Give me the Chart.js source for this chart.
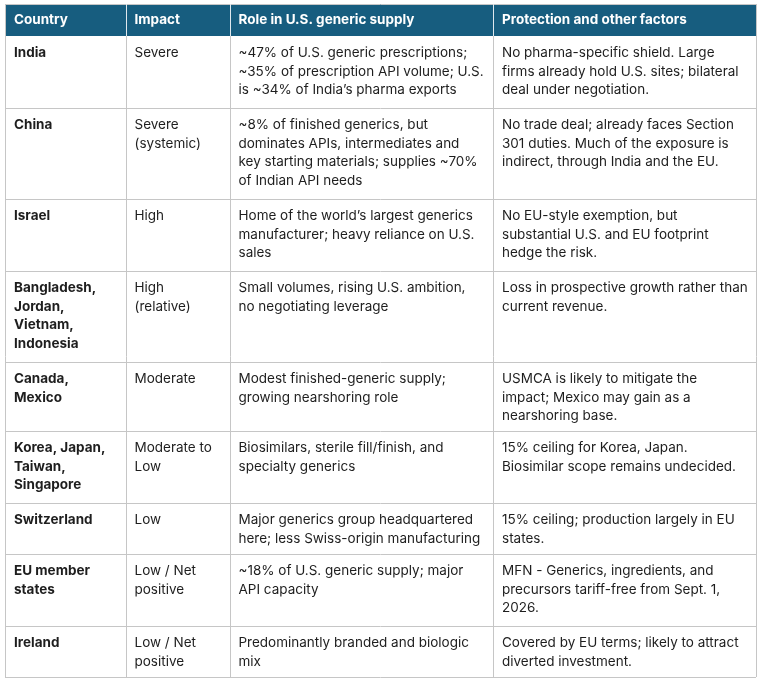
<!DOCTYPE html>
<html>
<head>
<meta charset="utf-8">
<script src="https://cdn.jsdelivr.net/npm/chart.js@4"></script>
<style>
  html, body { margin: 0; padding: 0; background: #fff; }
  #tableChart { display: block; }
</style>
</head>
<body>
<canvas id="tableChart" width="760" height="682"></canvas>
<script>
/**
 * Tariff exposure table — drawn on a Chart.js canvas through its linear scales
 */

const HEADERS = ['Country', 'Impact', 'Role in U.S. generic supply', 'Protection and other factors'];

const COUNTRIES = [
  ['India'],
  ['China'],
  ['Israel'],
  ['Bangladesh,', 'Jordan,', 'Vietnam,', 'Indonesia'],
  ['Canada,', 'Mexico'],
  ['Korea, Japan,', 'Taiwan,', 'Singapore'],
  ['Switzerland'],
  ['EU member', 'states'],
  ['Ireland'],
];

const IMPACTS = [
  ['Severe'],
  ['Severe', '(systemic)'],
  ['High'],
  ['High', '(relative)'],
  ['Moderate'],
  ['Moderate to', 'Low'],
  ['Low'],
  ['Low / Net', 'positive'],
  ['Low / Net', 'positive'],
];

const ROLES = [
  ['~47% of U.S. generic prescriptions;', '~35% of prescription API volume; U.S.', 'is ~34% of India\u2019s pharma exports'],
  ['~8% of finished generics, but', 'dominates APIs, intermediates and', 'key starting materials; supplies ~70%', 'of Indian API needs'],
  ['Home of the world\u2019s largest generics', 'manufacturer; heavy reliance on U.S.', 'sales'],
  ['Small volumes, rising U.S. ambition,', 'no negotiating leverage'],
  ['Modest finished-generic supply;', 'growing nearshoring role'],
  ['Biosimilars, sterile fill/finish, and', 'specialty generics'],
  ['Major generics group headquartered', 'here; less Swiss-origin manufacturing'],
  ['~18% of U.S. generic supply; major', 'API capacity'],
  ['Predominantly branded and biologic', 'mix'],
];

const PROTECTIONS = [
  ['No pharma-specific shield. Large', 'firms already hold U.S. sites; bilateral', 'deal under negotiation.'],
  ['No trade deal; already faces Section', '301 duties. Much of the exposure is', 'indirect, through India and the EU.'],
  ['No EU-style exemption, but', 'substantial U.S. and EU footprint', 'hedge the risk.'],
  ['Loss in prospective growth rather than', 'current revenue.'],
  ['USMCA is likely to mitigate the', 'impact; Mexico may gain as a', 'nearshoring base.'],
  ['15% ceiling for Korea, Japan.', 'Biosimilar scope remains undecided.'],
  ['15% ceiling; production largely in EU', 'states.'],
  ['MFN - Generics, ingredients, and', 'precursors tariff-free from Sept. 1,', '2026.'],
  ['Covered by EU terms; likely to attract', 'diverted investment.'],
];

/* ---- Layout (scale units = pixels) ---- */
const COL_EDGES = [5, 125.5, 229.5, 493, 756];
const ROW_EDGES = [4, 36, 108, 199, 271, 362, 431, 503, 554, 626, 677];
const PAD_X = 9;
const FIRST_LINE = 17;
const LINE_H = 18.6;
const FONT = 'Inter, "Noto Sans", sans-serif';
const FONT_SIZE = 13.5;

const STYLE = {
  headerBg: '#175d7f',
  headerText: '#ffffff',
  headerRule: '#dfe8ee',
  grid: '#c6c6c6',
  text: '#1e1e1e',
};

const tablePlugin = {
  id: 'tablePlugin',
  afterDraw(chart) {
    const { ctx } = chart;
    const x = chart.scales.x;
    const y = chart.scales.y;
    const px = (v) => x.getPixelForValue(v);
    const py = (v) => y.getPixelForValue(v);
    const left = px(COL_EDGES[0]);
    const right = px(COL_EDGES[COL_EDGES.length - 1]);

    ctx.save();

    // header band
    ctx.fillStyle = STYLE.headerBg;
    ctx.fillRect(left, py(ROW_EDGES[0]), right - left, py(ROW_EDGES[1]) - py(ROW_EDGES[0]));

    // horizontal rules
    ctx.strokeStyle = STYLE.grid;
    ctx.lineWidth = 1;
    ROW_EDGES.forEach((r, i) => {
      if (i === 1) return;
      const yy = Math.round(py(r)) + 0.5;
      ctx.beginPath();
      ctx.moveTo(left, yy);
      ctx.lineTo(right, yy);
      ctx.stroke();
    });

    // vertical rules: light inside the header, gray below
    COL_EDGES.forEach((c, i) => {
      const xx = Math.round(px(c)) + 0.5;
      const inner = i > 0 && i < COL_EDGES.length - 1;
      ctx.strokeStyle = inner ? STYLE.headerRule : STYLE.grid;
      ctx.beginPath();
      ctx.moveTo(xx, py(ROW_EDGES[0]));
      ctx.lineTo(xx, py(ROW_EDGES[1]));
      ctx.stroke();
      ctx.strokeStyle = STYLE.grid;
      ctx.beginPath();
      ctx.moveTo(xx, py(ROW_EDGES[1]));
      ctx.lineTo(xx, py(ROW_EDGES[ROW_EDGES.length - 1]));
      ctx.stroke();
    });

    ctx.textBaseline = 'middle';
    ctx.textAlign = 'left';

    // header text
    ctx.fillStyle = STYLE.headerText;
    ctx.font = `bold ${FONT_SIZE}px ${FONT}`;
    HEADERS.forEach((h, c) => {
      ctx.fillText(h, px(COL_EDGES[c] + PAD_X), (py(ROW_EDGES[0]) + py(ROW_EDGES[1])) / 2);
    });

    // body cells
    const columns = [COUNTRIES, IMPACTS, ROLES, PROTECTIONS];
    ctx.fillStyle = STYLE.text;
    columns.forEach((col, c) => {
      ctx.font = `${c === 0 ? 'bold ' : ''}${FONT_SIZE}px ${FONT}`;
      col.forEach((lines, r) => {
        const top = ROW_EDGES[r + 1];
        lines.forEach((line, k) => {
          ctx.fillText(line, px(COL_EDGES[c] + PAD_X), py(top + FIRST_LINE + k * LINE_H));
        });
      });
    });

    ctx.restore();
  },
};

new Chart(document.getElementById('tableChart'), {
  type: 'scatter',
  data: { datasets: [{ data: [], pointRadius: 0 }] },
  options: {
    responsive: false,
    animation: false,
    events: [],
    layout: { padding: 0 },
    plugins: { legend: { display: false }, tooltip: { enabled: false } },
    scales: {
      x: { type: 'linear', min: 0, max: 760, display: false },
      y: { type: 'linear', min: 0, max: 682, reverse: true, display: false },
    },
  },
  plugins: [tablePlugin],
});
</script>
</body>
</html>
